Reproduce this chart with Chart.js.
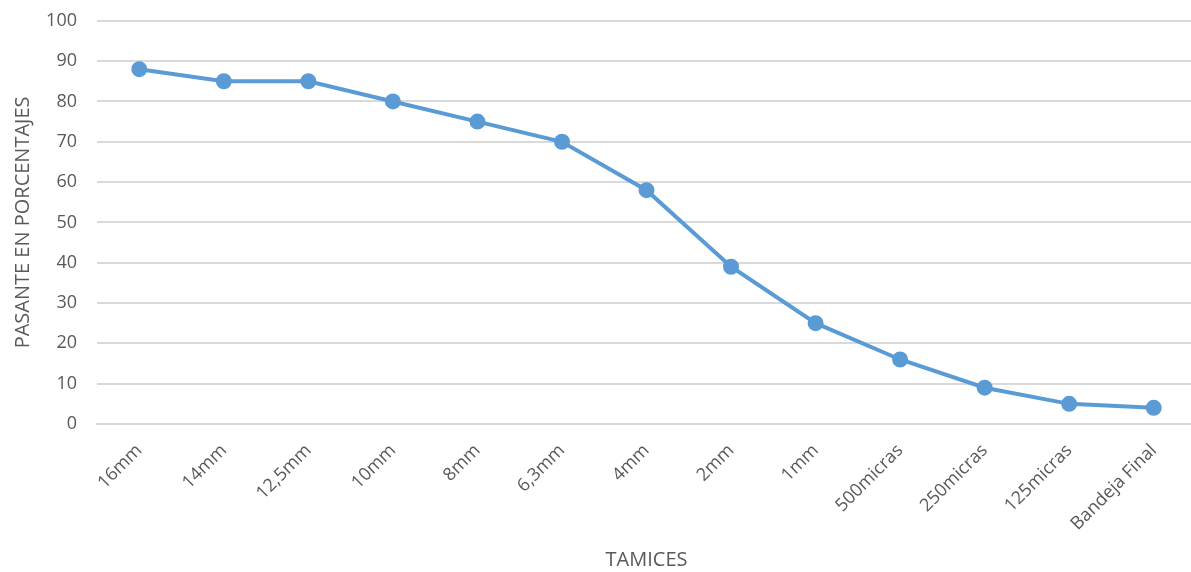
<!DOCTYPE html>
<html>
<head>
<meta charset="utf-8">
<script src="https://cdn.jsdelivr.net/npm/chart.js@4"></script>
<style>
  html, body { margin: 0; padding: 0; background: #fff; overflow: hidden; }
  #wrap { width: 1191px; height: 572px; overflow: hidden; }
  #myChart { display: block; margin-top: -10px; }
</style>
</head>
<body>
<div id="wrap"><canvas id="myChart" width="1206" height="582"></canvas></div>
<script>
const tamices = ['16mm', '14mm', '12,5mm', '10mm', '8mm', '6,3mm', '4mm', '2mm', '1mm', '500micras', '250micras', '125micras', 'Bandeja Final']
const pasante = [88, 85, 85, 80, 75, 70, 58, 39, 25, 16, 9, 5, 4]
const yTicks = [0, 10, 20, 30, 40, 50, 60, 70, 80, 90, 100]

const textColor = '#595959'
const gridColor = '#d9d9d9'
const fontFamily = '"Open Sans", "Liberation Sans", sans-serif'

const ctx = document.getElementById('myChart');
new Chart(ctx, {
    type: 'line',
    data: {
        labels: tamices,
        datasets: [{
            label: 'Pasante',
            data: pasante,
            borderColor: '#5b9bd5',
            backgroundColor: '#5b9bd5',
            borderWidth: 4,
            pointRadius: 6,
            pointHoverRadius: 6,
            tension: 0,
            fill: false
        }]
    },
    options: {
        responsive: false,
        animation: false,
        layout: { padding: { top: 11, right: 0, left: 0, bottom: 0 } },
        plugins: { legend: { display: false }, tooltip: { enabled: false } },
        scales: {
            x: {
                offset: true,
                grid: { display: false, drawTicks: false },
                border: { display: true, color: gridColor, width: 2 },
                ticks: {
                    color: textColor,
                    font: { family: fontFamily, size: 18 },
                    maxRotation: 45,
                    minRotation: 45,
                    autoSkip: false,
                    padding: 16
                },
                title: {
                    display: true,
                    text: 'TAMICES',
                    color: textColor,
                    font: { family: fontFamily, size: 20 },
                    padding: { top: 0, bottom: 0 }
                },
                afterFit: s => { s.height = 148 }
            },
            y: {
                min: 0,
                max: 100,
                afterBuildTicks: s => { s.ticks = yTicks.map(v => ({ value: v })) },
                grid: { color: gridColor, lineWidth: 2, drawTicks: false },
                border: { display: false },
                ticks: {
                    color: textColor,
                    font: { family: fontFamily, size: 18 },
                    padding: 20
                },
                title: {
                    display: true,
                    text: 'PASANTE EN PORCENTAJES',
                    color: textColor,
                    font: { family: fontFamily, size: 20 },
                    padding: { top: 11, bottom: 0 }
                },
                afterFit: s => { s.width = 97 }
            }
        }
    }
})
</script>
</body>
</html>
